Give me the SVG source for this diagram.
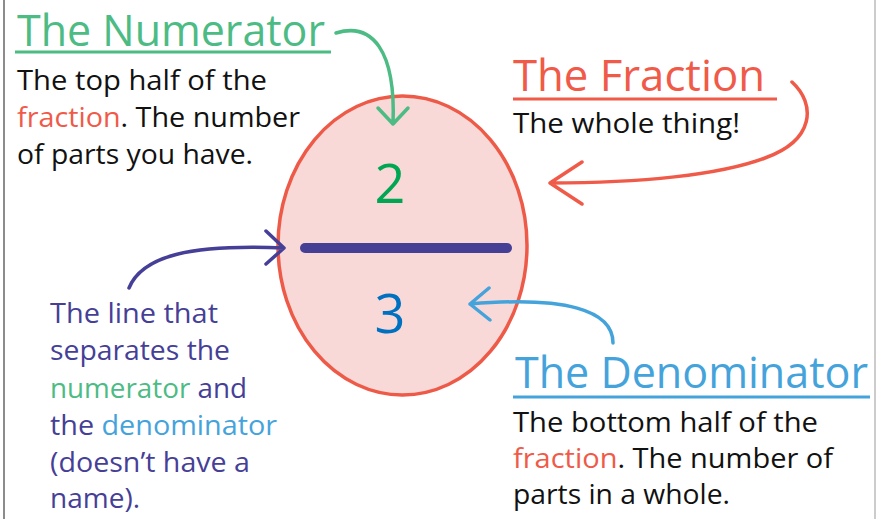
<svg xmlns="http://www.w3.org/2000/svg" width="876" height="519" viewBox="0 0 876 519">
<style>
text{font-family:"Open Sans","Noto Sans","DejaVu Sans",sans-serif;}
.h{font-size:44px;}
.b{font-size:28px;fill:#111;}
.p{font-size:28px;fill:#463f97;}
.red{fill:#f05a48;}
.grn{fill:#4cbb84;}
.blu{fill:#45a3dc;}
.conn{fill:none;stroke-width:3.5;stroke-linecap:round;stroke-linejoin:round;}
</style>
<rect x="0" y="0" width="876" height="519" fill="#fff"/>
<line x1="4" y1="0" x2="4" y2="519" stroke="#666" stroke-width="1.5"/>
<line x1="875" y1="0" x2="875" y2="519" stroke="#bbb" stroke-width="1.5"/>

<g id="fraction-shape">
<ellipse cx="402.5" cy="245.5" rx="124.5" ry="149.5" fill="#f9d9d7" stroke="#ee5a48" stroke-width="3.5"/>
<line x1="305" y1="248" x2="507" y2="248" stroke="#453f96" stroke-width="10" stroke-linecap="round"/>
<text x="390" y="203" text-anchor="middle" font-size="54" fill="#00a651">2</text>
<text x="390" y="333" text-anchor="middle" font-size="54" fill="#0070c0">3</text>
</g>

<g id="numerator">
<text class="h grn" x="17" y="46" textLength="308" lengthAdjust="spacingAndGlyphs">The Numerator</text>
<line x1="15" y1="52" x2="331" y2="52" stroke="#4cbb84" stroke-width="3"/>
<text class="b" x="17" y="90" textLength="250" lengthAdjust="spacingAndGlyphs">The top half of the</text>
<text class="b" x="17" y="127" textLength="283" lengthAdjust="spacingAndGlyphs"><tspan class="red">fraction</tspan>. The number</text>
<text class="b" x="17" y="164" textLength="236" lengthAdjust="spacingAndGlyphs">of parts you have.</text>
</g>

<g id="fraction-label">
<text class="h red" x="513" y="91" textLength="252" lengthAdjust="spacingAndGlyphs">The Fraction</text>
<line x1="513" y1="99" x2="777" y2="99" stroke="#f05a48" stroke-width="3"/>
<text class="b" x="513" y="133" textLength="227" lengthAdjust="spacingAndGlyphs">The whole thing!</text>
</g>

<g id="denominator">
<text class="h blu" x="515" y="388" textLength="353" lengthAdjust="spacingAndGlyphs">The Denominator</text>
<line x1="513" y1="397" x2="870" y2="397" stroke="#45a3dc" stroke-width="3"/>
<text class="b" x="513" y="432" textLength="305" lengthAdjust="spacingAndGlyphs">The bottom half of the</text>
<text class="b" x="513" y="468" textLength="320" lengthAdjust="spacingAndGlyphs"><tspan class="red">fraction</tspan>. The number of</text>
<text class="b" x="513" y="504" textLength="217" lengthAdjust="spacingAndGlyphs">parts in a whole.</text>
</g>

<g id="vinculum-label">
<text class="p" x="50" y="323" textLength="168" lengthAdjust="spacingAndGlyphs">The line that</text>
<text class="p" x="50" y="360" textLength="180" lengthAdjust="spacingAndGlyphs">separates the</text>
<text class="p" x="50" y="398" textLength="197" lengthAdjust="spacingAndGlyphs"><tspan class="grn">numerator</tspan> and</text>
<text class="p" x="50" y="435" textLength="227" lengthAdjust="spacingAndGlyphs">the <tspan class="blu">denominator</tspan></text>
<text class="p" x="50" y="472" textLength="200" lengthAdjust="spacingAndGlyphs">(doesn’t have a</text>
<text class="p" x="50" y="508" textLength="90" lengthAdjust="spacingAndGlyphs">name).</text>
</g>

<g id="connectors">
<path class="conn" stroke="#4cbb84" d="M336,33 C372,22 396,50 393,124 M378,108 L393,124 L408,108"/>
<path class="conn" stroke="#f05a48" d="M792,82 C816,104 815,140 765,158 C720,175 640,183 550,183 M582,162 L550,183 L582,204"/>
<path class="conn" stroke="#45a3dc" d="M613,343 C613,310 565,296 470,304 M489,288 L470,304 L490,320"/>
<path class="conn" stroke="#463f97" d="M129,288 C142,256 190,244 284,248 M266,231 L284,248 L266,264"/>
</g>
</svg>
